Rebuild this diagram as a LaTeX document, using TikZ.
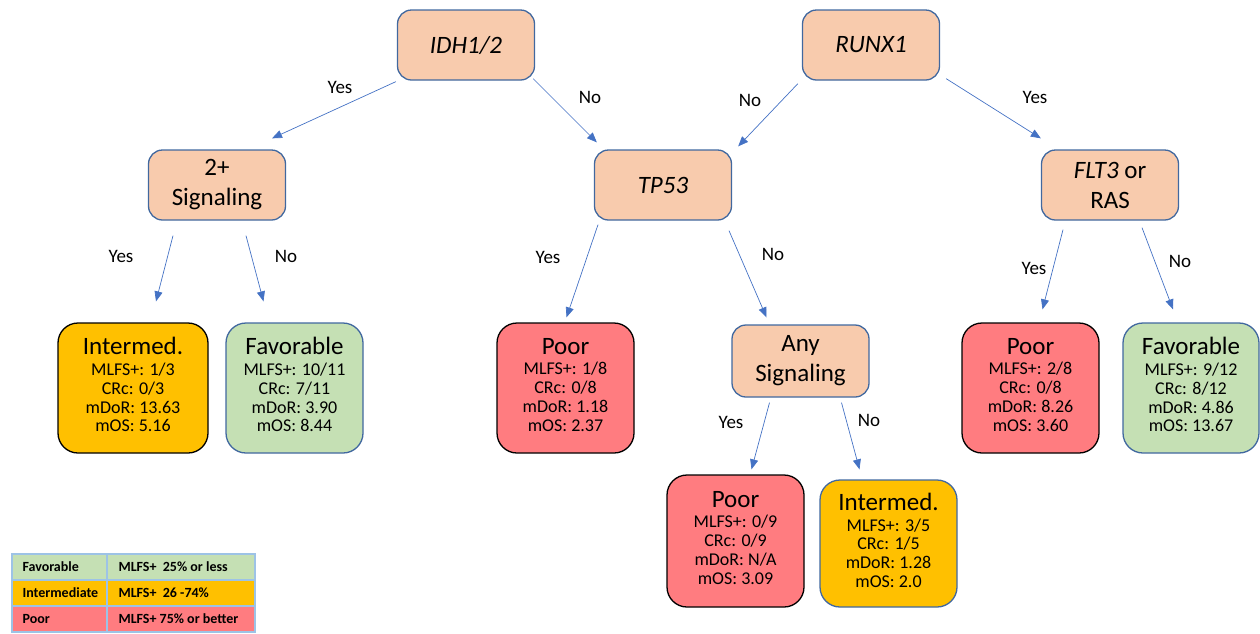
\documentclass[tikz,border=0pt]{standalone}
\usepackage{fontspec}
\setmainfont{Carlito}
\usetikzlibrary{calc,arrows.meta}

\definecolor{decfill}{HTML}{F8CBAD}
\definecolor{decline}{HTML}{41689F}
\definecolor{arrblue}{HTML}{4472C4}
\definecolor{favfill}{HTML}{C5E0B4}
\definecolor{intfill}{HTML}{FFC000}
\definecolor{poorfill}{HTML}{FF7C80}
\definecolor{legline}{HTML}{9DC3E6}

\newcommand{\leaftext}[5]{{\fontsize{25}{25}\selectfont #1}\\[2pt]#2\\#3\\#4\\#5\\[-12pt]\mbox{}}

\begin{document}
\begin{tikzpicture}[x=1pt,y=-1pt,
  decision/.style={draw=decline,line width=1.3pt,fill=decfill,rounded corners=14pt,
    minimum width=137pt,minimum height=70pt,align=center,
    font=\fontsize{25}{30}\selectfont},
  leaf/.style={line width=1.3pt,rounded corners=20pt,minimum width=137pt,
    minimum height=130pt,align=center,inner sep=2pt,
    font=\fontsize{18}{18.7}\selectfont},
  arr/.style={draw=arrblue,line width=0.7pt,-{Triangle[length=10pt,width=8pt]}},
  answer/.style={font=\fontsize{19}{19}\selectfont},
  legtext/.style={anchor=west,font=\fontsize{14}{14}\selectfont\bfseries}]
\useasboundingbox (0,0) rectangle (1260,633);

% decision nodes
\node[decision] (idh) at (466,45) {\textit{IDH1/2}};
\node[decision] (runx) at (871,45) {\textit{RUNX1}};
\node[decision] (sig2) at (217,185) {2+\\Signaling};
\node[decision] (tp53) at (663,185) {\textit{TP53}};
\node[decision] (flt) at (1110,185) {\textit{FLT3} or\\RAS};
\node[decision,minimum height=72pt] (any) at (800.5,361) {Any\\Signaling};

% outcomes
\node[leaf,draw=black,fill=intfill,minimum width=150pt] (intL) at (133,388)
  {\leaftext{Intermed.}{MLFS+: 1/3}{CRc: 0/3}{mDoR: 13.63}{mOS: 5.16}};
\node[leaf,draw=decline,fill=favfill] (favL) at (294.5,388)
  {\leaftext{Favorable}{MLFS+: 10/11}{CRc: 7/11}{mDoR: 3.90}{mOS: 8.44}};
\node[leaf,draw=black,fill=poorfill] (poorM) at (565.5,388)
  {\leaftext{Poor}{MLFS+: 1/8}{CRc: 0/8}{mDoR: 1.18}{mOS: 2.37}};
\node[leaf,draw=black,fill=poorfill,minimum height=132pt] (poorB) at (735.5,541)
  {\leaftext{Poor}{MLFS+: 0/9}{CRc: 0/9}{mDoR: N/A}{mOS: 3.09}};
\node[leaf,draw=decline,fill=intfill,minimum height=127pt] (intB) at (888.5,543.5)
  {\leaftext{Intermed.}{MLFS+: 3/5}{CRc: 1/5}{mDoR: 1.28}{mOS: 2.0}};
\node[leaf,draw=black,fill=poorfill] (poorR) at (1030.5,388)
  {\leaftext{Poor}{MLFS+: 2/8}{CRc: 0/8}{mDoR: 8.26}{mOS: 3.60}};
\node[leaf,draw=decline,fill=favfill,minimum width=136pt] (favR) at (1191,388)
  {\leaftext{Favorable}{MLFS+: 9/12}{CRc: 8/12}{mDoR: 4.86}{mOS: 13.67}};

% branches
\draw[arr] ($(idh.south west)+(-1,1)$) -- ($(sig2.north)+(55,-11)$);
\draw[arr] ($(idh.south east)+(-2,-2)$) -- ($(tp53.north west)+(3,-7)$);
\draw[arr] ($(runx.south west)+(-4,3)$) -- ($(tp53.north east)+(6,-3)$);
\draw[arr] ($(runx.south east)+(6,-2)$) -- ($(flt.north west)+(0,-11)$);
\draw[arr] ($(sig2.south)+(-44,15)$) -- ($(intL.north)+(23,-21)$);
\draw[arr] ($(sig2.south)+(29,15)$) -- ($(favL.north)+(-31,-21)$);
\draw[arr] ($(tp53.south)+(-65,4)$) -- ($(poorM.north)+(1,-5)$);
\draw[arr] ($(tp53.south)+(66,10)$) -- ($(any.north)+(-34,-7)$);
\draw[arr] ($(any.south)+(-31,5)$) -- ($(poorB.north)+(16,-5)$);
\draw[arr] ($(any.south)+(41,5)$) -- ($(intB.north)+(-29,-10)$);
\draw[arr] ($(flt.south)+(-47,9)$) -- ($(poorR.north)+(12,-13)$);
\draw[arr] ($(flt.south)+(32,7)$) -- ($(favR.north)+(-18,-13)$);

% yes / no
\node[answer] (a1) at (340,87) {Yes};
\node[answer] (a2) at (590,97) {No};
\node[answer] (a3) at (750,100) {No};
\node[answer] (a4) at (1035,97) {Yes};
\node[answer] (a5) at (121,256) {Yes};
\node[answer] (a6) at (286,256) {No};
\node[answer] (a7) at (548,257) {Yes};
\node[answer] (a8) at (773,254) {No};
\node[answer] (a9) at (731,422) {Yes};
\node[answer] (a10) at (869,420) {No};
\node[answer] (a11) at (1034,268) {Yes};
\node[answer] (a12) at (1180,261) {No};

% legend
\fill[favfill] (12,554) rectangle (255,580);
\fill[intfill] (12,580) rectangle (255,606);
\fill[poorfill] (12,606) rectangle (255,632);
\draw[legline,line width=1.5pt] (12,554) rectangle (255,632)
  (12,580) -- (255,580) (12,606) -- (255,606) (107,554) -- (107,632);
\node[legtext] (lfav) at (19,567) {Favorable};
\node[legtext] (lint) at (19,593) {Intermediate};
\node[legtext] (lpoor) at (19,619) {Poor};
\node[legtext] (rfav) at (115,567) {MLFS+\ \ 25\% or less};
\node[legtext] (rint) at (115,593) {MLFS+\ \ 26 -74\%};
\node[legtext] (rpoor) at (115,619) {MLFS+ 75\% or better};
\end{tikzpicture}
\end{document}
